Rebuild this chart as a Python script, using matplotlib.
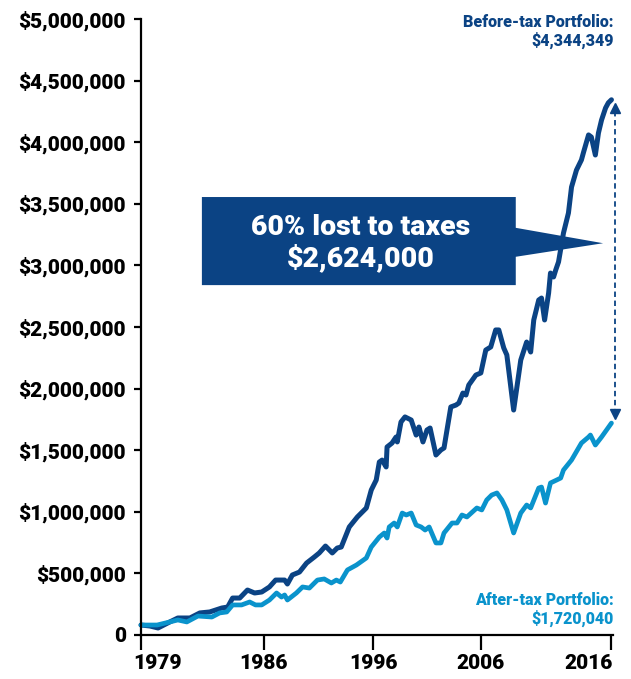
import matplotlib
matplotlib.use("Agg")
import matplotlib.pyplot as plt
from matplotlib.patches import Polygon
from matplotlib.ticker import FuncFormatter
from matplotlib.transforms import ScaledTranslation

# quarter index since start of 1979, portfolio value in $
before_q = [0, 2.9, 5.5, 9.3, 11.9, 15.8, 19.0, 22.2, 26.1, 28.0, 29.6, 31.9, 34.4, 36.7, 39.0,
            41.5, 43.5, 46.4, 47.3, 48.9, 51.2, 53.5, 56.0, 57.6, 59.6, 61.8, 63.4, 64.7, 67.3,
            69.9, 72.8, 74.4, 76.0, 77.0, 77.9, 79.2, 79.5, 81.1, 82.4, 82.8, 84.0, 85.3, 87.3,
            88.9, 89.8, 91.1, 92.4, 93.4, 95.3, 96.9, 97.9, 100.1, 101.8, 102.7, 104.0, 105.0,
            105.9, 108.2, 109.8, 111.4, 113.0, 114.6, 115.6, 117.2, 118.2, 120.4, 122.7, 124.6,
            125.9, 126.9, 128.5, 129.4, 130.4, 131.7, 132.3, 133.3, 134.0, 134.9, 136.5, 138.1,
            139.1, 140.7, 142.3, 143.0, 144.6, 145.5, 146.8, 147.8, 148.8, 150.1, 151.0, 152]
before_val = [81, 73, 57, 106, 138, 138, 179, 187, 219, 227, 300, 300, 365, 341, 349,
              390, 446, 446, 414, 487, 511, 584, 633, 666, 722, 666, 706, 714, 877,
              958, 1031, 1177, 1258, 1404, 1420, 1364, 1526, 1558, 1607, 1567, 1729, 1770, 1745,
              1623, 1688, 1567, 1664, 1680, 1461, 1502, 1518, 1851, 1867, 1883, 1964, 1948,
              2029, 2110, 2127, 2313, 2338, 2476, 2476, 2330, 2273, 1826, 2232, 2378,
              2297, 2557, 2719, 2735, 2557, 2776, 2938, 2906, 2963, 3028, 3263, 3425,
              3636, 3774, 3856, 3920, 4059, 4042, 3896, 4075, 4180, 4278, 4320, 4344.349]

after_q = [0, 5.2, 9.3, 11.9, 14.8, 18.4, 22.9, 25.4, 27.7, 29.6, 32.5, 35.1, 37.0, 39.0, 41.5,
           43.8, 45.4, 46.4, 47.3, 50.2, 52.2, 54.4, 57.0, 59.2, 61.5, 63.1, 64.4, 66.7, 69.6,
           72.8, 74.4, 77.0, 78.6, 79.5, 80.2, 81.8, 82.8, 84.4, 85.7, 87.3, 88.9, 90.5, 91.8,
           93.1, 95.3, 96.9, 97.9, 100.5, 102.1, 103.7, 105.3, 108.5, 110.1, 111.7, 113.3,
           115.0, 116.6, 118.2, 120.4, 122.7, 124.6, 125.9, 128.5, 129.4, 130.7, 132.3, 134.3,
           135.6, 136.5, 139.1, 142.3, 144.6, 145.2, 146.8, 148.8, 152]
after_val = [81, 81, 106, 122, 106, 154, 146, 179, 187, 244, 244, 268, 244, 244, 284,
             341, 308, 325, 284, 341, 390, 381, 446, 455, 422, 446, 430, 528, 568,
             625, 714, 795, 828, 787, 877, 909, 877, 990, 974, 990, 893, 877, 852,
             877, 747, 747, 828, 909, 909, 974, 958, 1031, 1015, 1096, 1136,
             1153, 1096, 1015, 828, 990, 1055, 1031, 1193, 1201, 1071, 1234, 1258,
             1274, 1339, 1420, 1558, 1607, 1623, 1542, 1607, 1720.040]

tick_pos = [0, 39.6, 75.0, 109.8, 151.7]
tick_labels = ["1979", "1986", "1996", "2006", "2016"]

before_end = 4344349
after_end = 1720040
lost = 2624000

navy = "#0b4384"
light = "#0a93cc"

plt.rcParams['font.family'] = ['Roboto', 'DejaVu Sans']

fig = plt.figure(figsize=(6.31, 6.79), dpi=100)
ax = fig.add_axes([141 / 631, 1 - 635 / 679, (613 - 141) / 631, (635 - 19) / 679])

ax.plot(before_q, [v * 1000 for v in before_val], color=navy, lw=3.6,
        solid_joinstyle='round', solid_capstyle='round', clip_on=False)
ax.plot(after_q, [v * 1000 for v in after_val], color=light, lw=3.4,
        solid_joinstyle='round', solid_capstyle='round', clip_on=False)

ax.set_xlim(0, 152.5)
ax.set_ylim(0, 5000000)
ax.set_yticks(range(0, 5000001, 500000))
ax.yaxis.set_major_formatter(FuncFormatter(lambda v, p: "0" if v == 0 else "${:,.0f}".format(v)))
ax.set_xticks(tick_pos)
ax.set_xticklabels(tick_labels)

for s in ['top', 'right']:
    ax.spines[s].set_visible(False)
for s in ['left', 'bottom']:
    ax.spines[s].set_linewidth(1.6)
ax.tick_params(axis='y', length=5, width=1.6, pad=6, labelsize=15)
ax.tick_params(axis='x', length=11, width=1.6, pad=3, labelsize=15)
for lab in ax.get_xticklabels() + ax.get_yticklabels():
    lab.set_fontweight('black')

# first and last year labels sit inside the axis ends
xl = ax.get_xticklabels()
xl[0].set_horizontalalignment('left')
xl[0].set_transform(xl[0].get_transform() + ScaledTranslation(-8 / 100, 0, fig.dpi_scale_trans))
xl[-1].set_horizontalalignment('right')
xl[-1].set_transform(xl[-1].get_transform() + ScaledTranslation(2 / 100, 0, fig.dpi_scale_trans))

# callout box with pointer
box = Polygon([(0.129, 0.711), (0.794, 0.711), (0.794, 0.661), (0.979, 0.636),
               (0.794, 0.614), (0.794, 0.568), (0.129, 0.568)],
              closed=True, transform=ax.transAxes, facecolor=navy, edgecolor='none', zorder=1)
ax.add_patch(box)
ax.text(0.465, 0.636, "60% lost to taxes\n${:,.0f}".format(lost), transform=ax.transAxes,
        ha='center', va='center', color='white', fontsize=20.5, fontweight='black',
        linespacing=1.1, zorder=2)

# dashed double arrow between the end values
xa = 153.3
ax.plot([xa, xa], [before_end - 90000, after_end + 90000], color=navy, lw=1.3,
        ls=(0, (3, 2)), clip_on=False)
ax.plot(xa, before_end - 70000, marker='^', color=navy, ms=7, clip_on=False)
ax.plot(xa, after_end + 70000, marker='v', color=navy, ms=7, clip_on=False)

ax.text(1.002, 1.008, "Before-tax Portfolio:\n${:,.0f}".format(before_end), transform=ax.transAxes,
        ha='right', va='top', color=navy, fontsize=11.5, fontweight='black', linespacing=1.15)
ax.text(1.002, 0.07, "After-tax Portfolio:\n${:,.0f}".format(after_end), transform=ax.transAxes,
        ha='right', va='top', color=light, fontsize=11.5, fontweight='black', linespacing=1.15)

fig.savefig("out.png", dpi=100)
